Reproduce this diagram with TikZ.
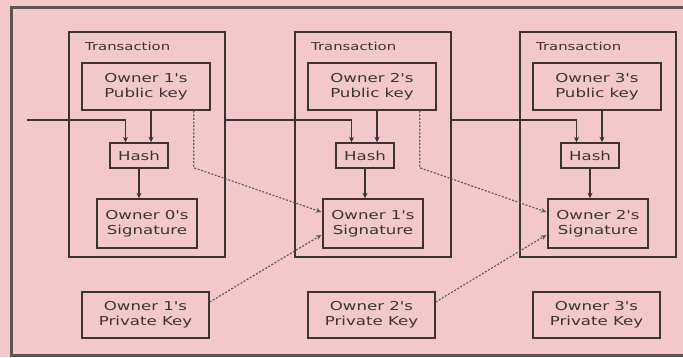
\documentclass[tikz,border=0pt]{standalone}
\usepackage{fontspec}
\newfontfamily\diagfont[FakeStretch=1.35]{DejaVu Sans}
\usetikzlibrary{arrows.meta,calc}
\definecolor{bgpink}{RGB}{243,200,202}
\definecolor{framegray}{RGB}{88,88,88}
\definecolor{linegray}{RGB}{58,52,52}
\definecolor{dotgray}{RGB}{95,90,90}
\tikzset{
  box/.style={draw=linegray, line width=1.4pt, rectangle, inner sep=0pt,
    align=center, text=linegray, font=\diagfont\fontsize{12.3}{15}\selectfont},
  txbox/.style={draw=linegray, line width=1.4pt, rectangle, inner sep=0pt,
    minimum width=156pt, minimum height=225pt},
  txlabel/.style={anchor=west, inner sep=0pt, text=linegray,
    font=\diagfont\fontsize{11}{13}\selectfont},
  arr/.style={draw=linegray, line width=1.3pt, -{Stealth[length=5.5pt,width=5pt]}},
  sigarr/.style={draw=dotgray, line width=1.15pt, dash pattern=on 2pt off 1.6pt,
    -{Stealth[length=5.5pt,width=5pt]}},
}
\begin{document}
\begin{tikzpicture}[x=1pt,y=-1pt]
  % canvas and outer frame (its right side runs off the page)
  \fill[bgpink] (0,0) rectangle (683,357);
  \useasboundingbox (0,0) rectangle (683,357);
  \draw[framegray, line width=3pt] (690,7) -- (11,7) -- (11,355) -- (690,355);

  % three transaction blocks
  \foreach \i/\dx in {1/0, 2/226, 3/451} {
    \node[txbox] (tx\i) at ({147+\dx},144.5) {};
    \node[txlabel] (txl\i) at ({85+\dx},46) {Transaction};
    \node[box, minimum width=128pt, minimum height=47pt] (pub\i) at ({146+\dx},86.5) {};
    \node[box, minimum width=58pt, minimum height=25pt] (hash\i) at ({139+\dx},155.5) {Hash};
    \node[box, minimum width=100pt, minimum height=49pt] (sig\i) at ({147+\dx},223.5) {};
    \node[box, minimum width=127pt, minimum height=46pt] (priv\i) at ({145.5+\dx},315) {};
    \coordinate (hl\i) at ($(hash\i.north)+(-13.5,0)$);
    \coordinate (hr\i) at ($(hash\i.north)+(12,0)$);
  }

  % box texts
  \node[box, draw=none] at (pub1) {Owner 1's\\Public key};
  \node[box, draw=none] at (pub2) {Owner 2's\\Public key};
  \node[box, draw=none] at (pub3) {Owner 3's\\Public key};
  \node[box, draw=none] at (sig1) {Owner 0's\\Signature};
  \node[box, draw=none] at (sig2) {Owner 1's\\Signature};
  \node[box, draw=none] at (sig3) {Owner 2's\\Signature};
  \node[box, draw=none] at (priv1) {Owner 1's\\Private Key};
  \node[box, draw=none] at (priv2) {Owner 2's\\Private Key};
  \node[box, draw=none] at (priv3) {Owner 3's\\Private Key};

  % chain of hashes
  \coordinate (in) at (27,120);
  \draw[arr] (in) -| (hl1);
  \draw[arr] (tx1.east |- in) -| (hl2);
  \draw[arr] (tx2.east |- in) -| (hl3);
  \foreach \i in {1,2,3} {
    \draw[arr] (pub\i.south -| hr\i) -- (hr\i);
    \draw[arr] (hash\i.south) -- (hash\i.south |- sig\i.north);
  }

  % signing links
  \foreach \i/\j in {1/2, 2/3} {
    \draw[sigarr] ($(pub\i.south east)+(-17,0)$) -- ++(0,57)
      -- ($(sig\j.west)+(-1,-11.5)$);
    \draw[sigarr] ($(priv\i.east)+(0,-13)$) -- ($(sig\j.west)+(-1,11.5)$);
  }
\end{tikzpicture}
\end{document}
